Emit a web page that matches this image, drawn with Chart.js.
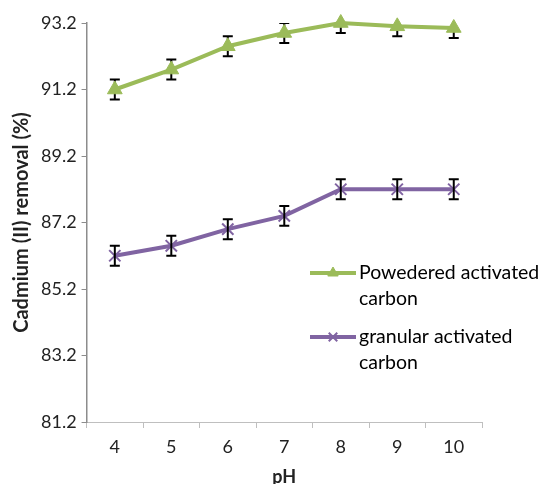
<!DOCTYPE html>
<html>
<head>
<meta charset="utf-8">
<script src="https://cdn.jsdelivr.net/npm/chart.js@4.4.1/dist/chart.umd.min.js"></script>
<style>
  body { margin: 0; background: #fff; }
</style>
</head>
<body>
<canvas id="chart" width="544" height="484"></canvas>
<script>
const phLabels = ['4', '5', '6', '7', '8', '9', '10'];
const powderedValues = [91.2, 91.8, 92.5, 92.9, 93.2, 93.1, 93.05];
const powderedErrors = [0.3, 0.3, 0.3, 0.3, 0.3, 0.3, 0.3];
const granularValues = [86.2, 86.5, 87.0, 87.4, 88.2, 88.2, 88.2];
const granularErrors = [0.3, 0.3, 0.3, 0.3, 0.3, 0.3, 0.3];
const yTicks = [81.2, 83.2, 85.2, 87.2, 89.2, 91.2, 93.2];

const fontFamily = 'Lato, "Open Sans", sans-serif';

// error bars, clipped to the plot area
function drawErrors(chart, index) {
    const ds = chart.data.datasets[index];
    const meta = chart.getDatasetMeta(index);
    const yScale = chart.scales.y;
    const area = chart.chartArea;
    const ctx = chart.ctx;
    ctx.save();
    ctx.beginPath();
    ctx.rect(area.left, area.top, area.right - area.left, area.bottom - area.top);
    ctx.clip();
    ctx.strokeStyle = '#000';
    ctx.lineWidth = 2;
    meta.data.forEach((pt, i) => {
        const v = ds.data[i];
        const e = ds.errors[i];
        const yTop = yScale.getPixelForValue(v + e);
        const yBot = yScale.getPixelForValue(v - e);
        ctx.beginPath();
        ctx.moveTo(pt.x, yTop);
        ctx.lineTo(pt.x, yBot);
        ctx.moveTo(pt.x - 5, yTop);
        ctx.lineTo(pt.x + 5, yTop);
        ctx.moveTo(pt.x - 5, yBot);
        ctx.lineTo(pt.x + 5, yBot);
        ctx.stroke();
    });
    ctx.restore();
}

const errorBars = {
    id: 'errorBars',
    beforeDatasetDraw(chart, args) {
        if (args.index === 0) drawErrors(chart, 0);
    },
    afterDatasetDraw(chart, args) {
        if (args.index === 1) drawErrors(chart, 1);
    }
};

const sideLegend = {
    id: 'sideLegend',
    afterDraw(chart) {
        const ctx = chart.ctx;
        const items = [
            { ds: chart.data.datasets[0], y: 273, lines: ['Powedered activated', 'carbon'] },
            { ds: chart.data.datasets[1], y: 337, lines: ['granular activated', 'carbon'] }
        ];
        ctx.save();
        items.forEach(item => {
            ctx.strokeStyle = item.ds.borderColor;
            ctx.lineWidth = 4;
            ctx.beginPath();
            ctx.moveTo(310, item.y);
            ctx.lineTo(356, item.y);
            ctx.stroke();
            ctx.fillStyle = item.ds.pointBackgroundColor;
            ctx.strokeStyle = item.ds.pointBorderColor;
            ctx.lineWidth = item.ds.pointBorderWidth;
            Chart.helpers.drawPoint(ctx, {
                pointStyle: item.ds.pointStyle,
                radius: 6,
                borderWidth: item.ds.pointBorderWidth
            }, 333, item.y);
            ctx.fillStyle = '#000';
            ctx.font = '19.5px ' + fontFamily;
            ctx.textBaseline = 'middle';
            ctx.textAlign = 'left';
            item.lines.forEach((t, k) => ctx.fillText(t, 359, item.y + k * 26));
        });
        ctx.restore();
    }
};

new Chart(document.getElementById('chart'), {
    type: 'line',
    data: {
        labels: phLabels,
        datasets: [
            {
                label: 'Powedered activated carbon',
                data: powderedValues,
                errors: powderedErrors,
                borderColor: '#9BBB59',
                backgroundColor: '#9BBB59',
                pointBackgroundColor: '#9BBB59',
                pointBorderColor: '#9BBB59',
                pointStyle: 'triangle',
                pointRadius: 8.5,
                pointBorderWidth: 1,
                borderWidth: 4,
                tension: 0,
                clip: false
            },
            {
                label: 'granular activated carbon',
                data: granularValues,
                errors: granularErrors,
                borderColor: '#8064A2',
                backgroundColor: '#8064A2',
                pointBackgroundColor: '#8064A2',
                pointBorderColor: '#8064A2',
                pointStyle: 'crossRot',
                pointRadius: 8,
                pointBorderWidth: 2,
                borderWidth: 4,
                tension: 0,
                clip: false
            }
        ]
    },
    options: {
        responsive: false,
        animation: false,
        layout: { padding: { left: 4, right: 62, top: 23, bottom: -2 } },
        plugins: {
            legend: { display: false },
            tooltip: { enabled: false }
        },
        scales: {
            x: {
                offset: true,
                grid: {
                    display: true,
                    offset: true,
                    drawOnChartArea: false,
                    drawTicks: true,
                    tickLength: 6,
                    color: '#BFBFBF'
                },
                border: { display: true, color: '#BFBFBF', width: 1 },
                ticks: { color: '#222', font: { family: fontFamily, size: 18, lineHeight: 1 }, padding: 10 },
                title: {
                    display: true,
                    text: 'pH',
                    color: '#222',
                    font: { family: fontFamily, size: 18, weight: 'bold', lineHeight: 1 },
                    padding: { top: 2, bottom: 0 }
                }
            },
            y: {
                min: yTicks[0],
                max: yTicks[yTicks.length - 1],
                ticks: {
                    stepSize: 2,
                    color: '#222',
                    font: { family: fontFamily, size: 18 },
                    padding: 5,
                    callback: v => v.toFixed(1)
                },
                afterBuildTicks: axis => { axis.ticks = yTicks.map(v => ({ value: v })); },
                grid: {
                    display: true,
                    drawOnChartArea: false,
                    drawTicks: true,
                    tickLength: 5,
                    color: '#8C8C8C'
                },
                border: { display: true, color: '#8C8C8C', width: 1.5 },
                title: {
                    display: true,
                    text: 'Cadmium (II) removal (%)',
                    color: '#222',
                    font: { family: fontFamily, size: 20, weight: 'bold', lineHeight: 1.2 },
                    padding: { top: 6, bottom: 2 }
                }
            }
        }
    },
    plugins: [errorBars, sideLegend]
});
</script>
</body>
</html>
